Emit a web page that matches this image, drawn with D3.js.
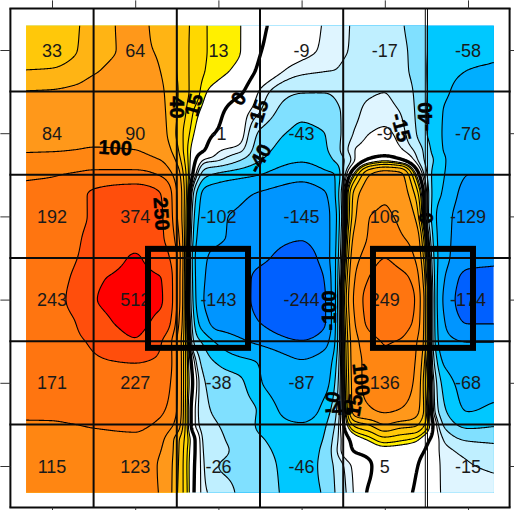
<!DOCTYPE html>
<html><head><meta charset="utf-8">
<style>html,body{margin:0;padding:0;background:#fff}svg{display:block}</style>
<script src="https://cdn.jsdelivr.net/npm/d3@7"></script>
</head><body><svg id="c" width="514" height="510"></svg>
<script>
// cell labels, row by row
const row1=["33","64","13","-9","-17","-58"];
const row2=["84","90","-1","-43","-9","-76"];
const row3=["192","374","-102","-145","106","-129"];
const row4=["243","512","-143","-244","249","-174"];
const row5=["171","227","-38","-87","136","-68"];
const row6=["115","123","-26","-46","5","-15"];
const levels=[-150,-100,-60,-40,-25,-15,-10,0,10,15,25,40,60,100,150,250,500];
const bandColors=["#0060FF","#0095FF","#00AEFF","#00C8FF","#80E0FF","#BFEFFF","#DFF5FF","#FFFFFF","#FFFFFF","#FFF000","#FFD800","#FFC80A","#FFB414","#FF981A","#FF8612","#FF7510","#FF4E0C","#FF0000"];
// surface: node positions in cell units, values per row
const uNodes=[-0.31,0,0.28,0.5,1,1.3,1.5,1.61,1.72,1.84,2,2.26,2.5,3,3.28,3.4,3.52,3.64,3.82,4,4.18,4.36,4.48,4.6,4.72,5,5.31];
const vNodes=[-0.29,0,0.24,0.49,0.745,1,1.2,1.32,1.5,1.74,2,2.25,2.5,2.75,3,3.26,3.51,3.75,4,4.33,4.5,4.69,4.81,5,5.32];
const surface=[
[30,32,38,48,66,52,40,28,21,15.5,13,10.2,2,-7,-10.5,-12,-14,-16,-18,-20,-24,-28,-38,-45,-50,-57,-58],
[32,33,39,50,64,57,40,28,20,15.5,13,10.2,0.5,-8,-11,-12.5,-14.5,-16,-18,-20,-23.5,-27,-38,-45,-50,-58,-59],
[40,41,47,57,70,60,40,28,20,15,12,8,-2,-13,-14.5,-15,-16.5,-17,-18,-19,-23,-27,-38,-47,-53,-60,-61],
[60,61,65,72,78,64,42,28,20,11,7,2,-10.5,-23.5,-24,-23,-20,-17,-16,-15.3,-20,-26,-38,-46,-56,-68,-69],
[72,74,78,82,84,67,41,25,13,7,2,-6,-15,-37,-33,-27.5,-23,-17,-13,-12,-15,-25,-38,-48,-62,-72,-72],
[90,88,91,93,92,72,38,20,9,3,-1,-7,-27,-43,-40,-30,-22,-14,-10,-9,-12,-23,-37,-50,-63,-76,-76],
[97,98,100,102,100,82,45,18,5,0,-9,-13,-33,-50,-42,-33,-18,-10,-7,-6,-9,-16,-28,-48,-62,-82,-82],
[112,112,114,118,115,100,55,20,1,-11,-14,-24,-39,-57,-47,-38,-24,-10,2,7,1.5,-11,-26,-42,-58,-92,-94],
[140,146,158,170,175,145,80,25,-8,-35,-44,-52,-60,-85,-68,-60,-16,15,60,75,68,15,-17,-48,-60,-100,-100],
[170,175,220,265,330,255,100,28,-35,-70,-80,-92,-105,-125,-105,-62,-3,48,82,95,80,40,-5,-50,-65,-118,-118],
[185,192,225,265,374,270,105,25,-45,-78,-95,-105,-120,-145,-120,-70,-3,55,100,106,92,60,-3,-55,-80,-129,-130],
[195,205,235,285,430,280,125,24,-52,-85,-95,-110,-130,-148,-122,-68,3,70,105,128,105,85,15,-50,-82,-132,-135],
[205,215,245,310,515,360,150,22,-60,-95,-115,-125,-140,-175,-125,-65,10,85,120,150,125,100,30,-45,-85,-135,-140],
[215,225,265,465,540,510,150,21,-58,-100,-130,-135,-165,-215,-145,-65,20,100,155,205,175,130,42,-42,-100,-165,-168],
[220,228,280,490,550,525,150,20,-55,-105,-143,-135,-170,-244,-155,-65,28,110,180,249,205,150,52,-40,-110,-174,-172],
[205,215,250,420,545,440,130,21,-45,-85,-125,-125,-152,-210,-155,-65,22,100,170,215,185,140,50,-40,-100,-155,-155],
[190,205,225,275,480,265,100,22,-30,-45,-65,-92,-108,-145,-115,-60,18,85,128,152,146,110,50,-38,-85,-100,-100],
[178,187,205,235,252,230,105,22,-12,-33,-42,-52,-62,-97,-80,-48,15,82,115,145,130,102,38,-28,-65,-80,-85],
[170,171,195,218,227,200,105,22,-6,-25,-32,-37,-58,-87,-70,-40,12,80,115,136,125,95,30,-18,-48,-68,-68],
[160,160,168,172,178,160,100,20,-10,-22,-28,-33,-42,-78,-50,-30,8,75,95,106,98,75,35,-15,-38,-61,-56],
[145,146,150,155,160,140,85,20,-10,-20,-25,-30,-43,-58,-42,-25,3,30,42,60,50,45,25,-5,-28,-45,-42],
[128,130,132,135,140,110,48,20,0,-18,-23,-29,-38,-50,-38,-20,-5,4,11,19,16,12,4,-5,-16,-26,-28],
[122,124,126,128,128,102,47,18,0,-17,-22,-28,-36,-47,-36,-18,-6,1,4,7,6,4,0,-7,-13,-17,-20],
[115,115,118,120,123,95,45,17,-1,-16,-25,-28,-34,-46,-35,-23,-14,-8,-1,5,3,1,-3,-7,-12,-14.5,-16],
[105,108,110,112,115,98,42,18,-2,-14,-18,-27,-33,-45,-38,-25,-16,-9,1.5,4,2,-0.5,-4,-8,-11,-13,-13]
];
const cellRows=[row1,row2,row3,row4,row5,row6];
const contourText=["100","250","40","15","0","-15","-40","-15","-40","0","-100","100","0","-40","15"];
const cols=[0,1,2,3,4,5];

const svg=d3.select("#c");
const x=d3.scaleLinear().domain([0,5]).range([52,468]);
const y=d3.scaleLinear().domain([0,5]).range([50,466]);
const ux=x.invert, uy=y.invert;

// shape-preserving resampling of the surface onto the pixel lattice for the contour generator
function monoSlopes(xs,ys){const n=xs.length,d=[],m=new Array(n);
  for(let i=0;i<n-1;i++)d[i]=(ys[i+1]-ys[i])/(xs[i+1]-xs[i]);
  m[0]=d[0];m[n-1]=d[n-2];
  for(let i=1;i<n-1;i++){ if(d[i-1]*d[i]<=0)m[i]=0; else{const h0=xs[i]-xs[i-1],h1=xs[i+1]-xs[i],w1=2*h1+h0,w2=h1+2*h0;m[i]=(w1+w2)/(w1/d[i-1]+w2/d[i]);}}
  return m;}
function evalMono(xs,ys,m,t){let i=d3.bisectRight(xs,t)-1;i=Math.max(0,Math.min(xs.length-2,i));
  const h=xs[i+1]-xs[i],s=Math.max(0,Math.min(1,(t-xs[i])/h)),s2=s*s,s3=s2*s;
  return (2*s3-3*s2+1)*ys[i]+(s3-2*s2+s)*h*m[i]+(-2*s3+3*s2)*ys[i+1]+(s3-s2)*h*m[i+1];}
const L=x(uNodes[0]), R=x(uNodes[uNodes.length-1]), T=y(vNodes[0]), B=y(vNodes[vNodes.length-1]);
const gx=Math.floor(L)-2, gy=Math.floor(T)-2, W=Math.ceil(R)+2-gx, H=Math.ceil(B)+2-gy;
const rowsAcross=surface.map(r=>{const m=monoSlopes(uNodes,r);
  return d3.range(W).map(i=>evalMono(uNodes,r,m,ux(gx+i+.5)));});
let grid=new Float64Array(W*H);
for(let i=0;i<W;i++){const col=rowsAcross.map(r=>r[i]),m=monoSlopes(vNodes,col);
  for(let j=0;j<H;j++)grid[i+j*W]=evalMono(vNodes,col,m,uy(gy+j+.5));}
if(d3.blur2) d3.blur2({data:grid,width:W,height:H},1);
const polys=d3.contours().size([W,H]).smooth(true).thresholds(levels)(grid);
const path=d3.geoPath();

const defs=svg.append("defs");
defs.append("clipPath").attr("id","area").append("rect")
  .attr("x",L).attr("y",T).attr("width",R-L).attr("height",B-T);
const map=svg.append("g").attr("clip-path","url(#area)");
map.append("rect").attr("x",L).attr("y",T).attr("width",R-L).attr("height",B-T).attr("fill",bandColors[0]);
const inner=map.append("g").attr("transform",`translate(${gx},${gy})`);
inner.selectAll("path.f").data(polys).join("path").attr("class","f")
  .attr("d",path).attr("fill",(d,i)=>bandColors[i+1]).attr("stroke","none");
inner.selectAll("path.l").data(polys).join("path").attr("class","l")
  .attr("d",path).attr("fill","none").attr("stroke","#000")
  .attr("stroke-width",d=>d.value===0?3.4:1.1).attr("stroke-linejoin","round");

// value labels
svg.append("g").selectAll("g").data(cellRows).join("g").each(function(rw,ri){
  d3.select(this).selectAll("text").data(rw).join("text")
    .attr("x",(d,i)=>x(i)).attr("y",y(ri)+6.5).attr("text-anchor","middle")
    .attr("font-family","'Liberation Sans',Arial,sans-serif").attr("font-size",18)
    .attr("fill","#1a1a1a").text(d=>d);
});

// contour labels
const contourPlace=[[0.76,1.17,3],[1.32,1.97,86],[1.5,0.69,90],[1.7,0.66,-75],[2.24,0.58,-55],[2.47,0.77,-72],[2.49,1.3,-62],
 [4.2,0.93,75],[4.48,0.8,-90],[4.5,2.02,90],[3.33,3.13,-90],[3.72,3.96,84],[3.37,4.17,-80],[3.45,4.3,-5],[3.63,4.27,-80]];
svg.append("g").selectAll("text").data(contourText).join("text")
  .attr("transform",(d,i)=>`translate(${x(contourPlace[i][0])},${y(contourPlace[i][1])}) rotate(${contourPlace[i][2]})`)
  .attr("text-anchor","middle").attr("dy","0.36em")
  .attr("font-family","'Liberation Sans',Arial,sans-serif").attr("font-size",20).attr("font-weight","bold")
  .attr("fill","#000").attr("stroke","#000").attr("stroke-width",0.5).text(d=>d);

// grid
const edges=[-0.5,0.5,1.5,2.5,3.5,4.5,5.5];
const grp=svg.append("g").attr("stroke","#0a0a0a").attr("fill","none");
grp.selectAll("line.v").data(edges).join("line").attr("class","v")
  .attr("x1",d=>x(d)).attr("x2",d=>x(d)).attr("y1",y(-0.5)).attr("y2",y(5.5))
  .attr("stroke-width",d=>d===4.5?0:2);
[-1.1,1.1].forEach(o=>grp.append("line").attr("x1",x(4.5)+o).attr("x2",x(4.5)+o).attr("y1",y(-0.5)).attr("y2",y(5.5)).attr("stroke-width",1));
grp.selectAll("line.h").data(edges).join("line").attr("class","h")
  .attr("y1",d=>y(d)).attr("y2",d=>y(d)).attr("x1",x(-0.5)-1).attr("x2",x(5.5)+1).attr("stroke-width",2);

// axes (ticks only)
const noLab=a=>a.tickValues(cols).tickFormat("").tickSizeOuter(0);
const ax=[
 [d3.axisTop(x).tickSize(8),`translate(0,${y(-0.5)})`],
 [d3.axisBottom(x).tickSize(3),`translate(0,${y(5.5)})`],
 [d3.axisLeft(y).tickSize(10),`translate(${x(-0.5)},0)`],
 [d3.axisRight(y).tickSize(5),`translate(${x(5.5)},0)`]];
ax.forEach(([a,t])=>{const g=svg.append("g").attr("transform",t).call(noLab(a));
  g.select(".domain").remove();g.selectAll("line").attr("stroke","#333");});

// highlighted boxes
const boxCols=[[1.154,2.356],[3.858,5.06]], boxRows=[2.39,3.58];
svg.append("g").selectAll("rect").data(boxCols).join("rect")
  .attr("x",d=>x(d[0])).attr("width",d=>x(d[1])-x(d[0]))
  .attr("y",y(boxRows[0])).attr("height",y(boxRows[1])-y(boxRows[0]))
  .attr("fill","none").attr("stroke","#000").attr("stroke-width",6);
</script></body></html>
